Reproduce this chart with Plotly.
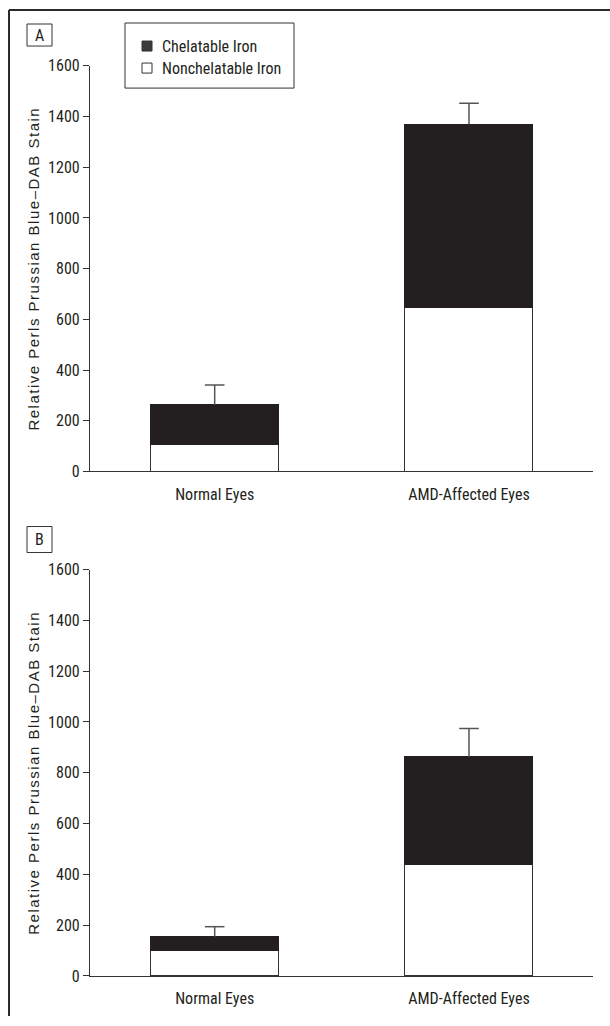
import plotly.graph_objects as go

# ---- data ----
categories = ["Normal Eyes", "AMD-Affected Eyes"]
nonchelatable_A = [107, 647]
chelatable_A = [156, 722]
error_A = [78, 83]
nonchelatable_B = [101, 437]
chelatable_B = [54, 426]
error_B = [39, 111]
y_ticks = [0, 200, 400, 600, 800, 1000, 1200, 1400, 1600]
y_title = "Relative Perls Prussian Blue–DAB Stain"
panel_labels = ["A", "B"]
legend_labels = ["Chelatable Iron", "Nonchelatable Iron"]

W, H = 610, 1026
FONT = "Liberation Sans Narrow, Arial Narrow, Roboto Condensed, sans-serif"
FONT_TITLE = "Liberation Sans, Arial, Helvetica, sans-serif"
TXT = "#231f20"
DARK = "#231f20"
LINE = "#333333"
ERR = "#555555"


def px(x):
    return x / W


def py(y):
    yc = (y - 9) / 0.9805
    yc = min(max(yc, 0.0), H)
    return 1 - yc / H


fig = go.Figure()

for i, (nc, ch, er) in enumerate([(nonchelatable_A, chelatable_A, error_A),
                                  (nonchelatable_B, chelatable_B, error_B)]):
    xa = "x" if i == 0 else "x2"
    ya = "y" if i == 0 else "y2"
    fig.add_trace(go.Bar(x=categories, y=nc, xaxis=xa, yaxis=ya,
                         marker=dict(color="white", line=dict(color=LINE, width=1)),
                         width=0.503, showlegend=False, name=legend_labels[1]))
    fig.add_trace(go.Bar(x=categories, y=ch, xaxis=xa, yaxis=ya,
                         marker=dict(color=DARK, line=dict(color=DARK, width=1)),
                         width=0.503, showlegend=False, name=legend_labels[0]))
    totals = [a + b for a, b in zip(nc, ch)]
    tops = [t + e for t, e in zip(totals, er)]
    # upper error bar: cap marker at top, stem down to the stacked total
    fig.add_trace(go.Scatter(x=categories, y=tops, xaxis=xa, yaxis=ya, mode="markers",
                             marker=dict(symbol="line-ew-open", size=14,
                                         line=dict(color=ERR, width=1.5), color=ERR),
                             error_y=dict(type="data", symmetric=False, array=[0] * len(er),
                                          arrayminus=er, color=ERR, thickness=1.5, width=0),
                             showlegend=False, hoverinfo="skip"))

xdom = [px(90), px(593)]
xrange = [-0.4903, 1.4876]
common_x = dict(domain=xdom, range=xrange, showline=True, linecolor=LINE, linewidth=1.2,
                ticks="", showgrid=False, zeroline=False,
                tickfont=dict(family=FONT, size=16, color=TXT), ticklabelstandoff=8,
                fixedrange=True)
common_y = dict(range=[0, 1600], tickvals=y_ticks, showline=True, linecolor=LINE,
                linewidth=1.2, ticks="outside", ticklen=6, tickcolor=LINE, tickwidth=1,
                showgrid=False, zeroline=False,
                tickfont=dict(family=FONT, size=16, color=TXT), fixedrange=True)

fig.update_layout(
    width=W, height=H, autosize=False,
    margin=dict(l=0, r=0, t=0, b=0),
    paper_bgcolor="white", plot_bgcolor="white",
    barmode="stack", bargap=0,
    showlegend=False,
    xaxis=dict(**common_x, anchor="y"),
    yaxis=dict(**common_y, domain=[py(471), py(65.7)], anchor="x"),
    xaxis2=dict(**common_x, anchor="y2"),
    yaxis2=dict(**common_y, domain=[py(975), py(569)], anchor="x2"),
)

shapes = []
annotations = []
# outer frame (top and left edges)
shapes.append(dict(type="line", xref="paper", yref="paper", x0=px(9), x1=1.0,
                   y0=1 - 1.0 / H, y1=1 - 1.0 / H, line=dict(color="#2a2a2a", width=2)))
shapes.append(dict(type="line", xref="paper", yref="paper", x0=px(9), x1=px(9),
                   y0=1 - 1.0 / H, y1=0, line=dict(color="#2a2a2a", width=2)))

# panel labels
for lab, (y0, y1) in zip(panel_labels, [(24, 46), (526, 552)]):
    shapes.append(dict(type="rect", xref="paper", yref="paper", x0=px(27), x1=px(52),
                       y0=py(y1), y1=py(y0), line=dict(color=LINE, width=1),
                       fillcolor="white"))
    annotations.append(dict(text=lab, xref="paper", yref="paper", x=px(39.5),
                            y=py((y0 + y1) / 2), showarrow=False, xanchor="center",
                            yanchor="middle", font=dict(family=FONT, size=16, color=TXT)))

# y-axis titles
for yc in [(471 + 65.7) / 2, (975 + 569) / 2]:
    annotations.append(dict(text='<span style="letter-spacing:1.5px">' + y_title + '</span>',
                            xref="paper", yref="paper", x=px(34), y=py(yc),
                            showarrow=False, textangle=-90, xanchor="center",
                            yanchor="middle",
                            font=dict(family=FONT_TITLE, size=15, color=TXT)))

# legend box
shapes.append(dict(type="rect", xref="paper", yref="paper", x0=px(125), x1=px(294),
                   y0=py(88), y1=py(23), line=dict(color=LINE, width=1)))
for lab, yc, fill in zip(legend_labels, [46, 68], ["#3a3a3a", "white"]):
    shapes.append(dict(type="rect", xref="paper", yref="paper", x0=px(142), x1=px(152),
                       y0=py(yc + 5), y1=py(yc - 5), line=dict(color=LINE, width=1),
                       fillcolor=fill))
    annotations.append(dict(text=lab, xref="paper", yref="paper", x=px(160), y=py(yc),
                            showarrow=False, xanchor="left", yanchor="middle",
                            font=dict(family=FONT, size=16, color=TXT)))

fig.update_layout(shapes=shapes, annotations=annotations)
fig.write_html("out.html", config={"displayModeBar": False},
               post_script="document.body.style.margin='0';document.body.style.overflow='hidden';")
